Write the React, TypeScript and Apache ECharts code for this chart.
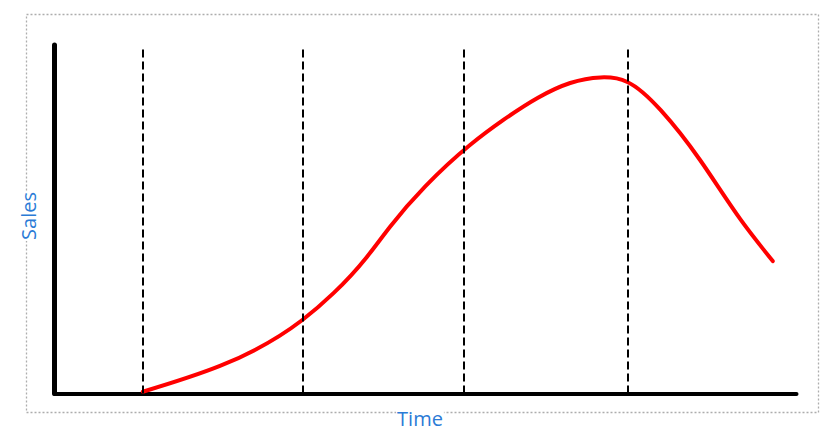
import React, { useEffect, useRef } from "react";
import * as echarts from "echarts";

// Product life-cycle curve (time vs sales)
const timeValues = [11.9, 22.3, 33.4, 37.6, 42.1, 45.2, 50.0, 56.0, 60.5, 65.1, 69.5, 73.6, 77.2, 81.7, 87.0, 92.4, 96.8];
const salesValues = [0.5, 7.9, 21.1, 28.8, 39.2, 47.8, 59.5, 71.3, 78.5, 84.8, 89.1, 90.7, 89.4, 81.3, 67.0, 50.1, 38.0];
// Stage boundaries (dashed verticals)
const stageBoundaries = [11.9, 33.4, 55.2, 77.3];
const stageTop = 99;
const xAxisTitle = "Time";
const yAxisTitle = "Sales";

// Natural cubic spline through screen points (x increasing), returned as SVG path data
function splinePath(pts: number[][]): string {
  const n = pts.length;
  const x = pts.map((p) => p[0]);
  const y = pts.map((p) => p[1]);
  const h: number[] = [];
  for (let i = 0; i < n - 1; i++) h.push(x[i + 1] - x[i]);
  const M = new Array(n).fill(0);
  if (n > 2) {
    const a: number[] = [], b: number[] = [], c: number[] = [], r: number[] = [];
    for (let i = 1; i < n - 1; i++) {
      a.push(h[i - 1]);
      b.push(2 * (h[i - 1] + h[i]));
      c.push(h[i]);
      r.push(6 * ((y[i + 1] - y[i]) / h[i] - (y[i] - y[i - 1]) / h[i - 1]));
    }
    const m = b.length;
    for (let i = 1; i < m; i++) {
      const w = a[i] / b[i - 1];
      b[i] -= w * c[i - 1];
      r[i] -= w * r[i - 1];
    }
    const sol = new Array(m).fill(0);
    sol[m - 1] = r[m - 1] / b[m - 1];
    for (let i = m - 2; i >= 0; i--) sol[i] = (r[i] - c[i] * sol[i + 1]) / b[i];
    for (let i = 0; i < m; i++) M[i + 1] = sol[i];
  }
  let d = `M${x[0]},${y[0]}`;
  for (let i = 0; i < n - 1; i++) {
    const hi = h[i];
    const s = (y[i + 1] - y[i]) / hi;
    const m0 = s - (hi * (2 * M[i] + M[i + 1])) / 6;
    const m1 = s + (hi * (M[i] + 2 * M[i + 1])) / 6;
    const c1x = x[i] + hi / 3, c1y = y[i] + (m0 * hi) / 3;
    const c2x = x[i + 1] - hi / 3, c2y = y[i + 1] - (m1 * hi) / 3;
    d += ` C${c1x},${c1y} ${c2x},${c2y} ${x[i + 1]},${y[i + 1]}`;
  }
  return d;
}

export default function App() {
  const ref = useRef<HTMLDivElement>(null);

  useEffect(() => {
    if (!ref.current) return;
    const chart = echarts.init(ref.current, null, { renderer: "svg" });
    const curve = timeValues.map((t, i) => [t, salesValues[i]]);
    const blue = "#2b7bd6";

    const renderCurve = (params: any, api: any) => {
      if (params.dataIndex !== 0) return null;
      const pts: number[][] = curve.map((d) => api.coord(d));
      return {
        type: "path",
        shape: { pathData: splinePath(pts) },
        style: { stroke: "#ff0000", lineWidth: 4, fill: "none", lineCap: "round", lineJoin: "round" },
        silent: true,
      };
    };

    chart.setOption({
      animation: false,
      grid: { left: 54.5, top: 45, right: 38.5, bottom: 48.5, containLabel: false },
      xAxis: {
        type: "value",
        min: 0,
        max: 100,
        axisLine: { show: true, lineStyle: { color: "#000", width: 4 } },
        axisTick: { show: false },
        axisLabel: { show: false },
        splitLine: { show: false },
      },
      yAxis: {
        type: "value",
        min: 0,
        max: 100,
        axisLine: { show: true, lineStyle: { color: "#000", width: 5 } },
        axisTick: { show: false },
        axisLabel: { show: false },
        splitLine: { show: false },
      },
      series: [
        {
          type: "line",
          data: [],
          silent: true,
          z: 1,
          markLine: {
            silent: true,
            symbol: ["none", "none"],
            label: { show: false },
            emphasis: { disabled: true },
            lineStyle: { color: "#000", width: 2, type: [8, 4] },
            data: stageBoundaries.map((b) => [
              { coord: [b, 0] },
              { coord: [b, stageTop] },
            ]),
          },
        },
        {
          type: "custom",
          data: curve,
          encode: { x: 0, y: 1 },
          renderItem: renderCurve,
          clip: false,
          silent: true,
          z: 3,
        },
      ],
      graphic: [
        {
          type: "rect",
          z: 0,
          silent: true,
          shape: { x: 26.5, y: 14.5, width: 792, height: 398 },
          style: { fill: "none", stroke: "#adadad", lineWidth: 1.3, lineDash: [2, 2] },
        },
        {
          type: "text",
          z: 10,
          x: 420,
          y: 418,
          style: {
            text: xAxisTitle,
            fill: blue,
            font: "20px 'Open Sans', sans-serif",
            textAlign: "center",
            textVerticalAlign: "middle",
            backgroundColor: "#fff",
            padding: [0, 1],
          },
        },
        {
          type: "text",
          z: 10,
          x: 28,
          y: 216,
          rotation: Math.PI / 2,
          style: {
            text: yAxisTitle,
            fill: blue,
            font: "20px 'Open Sans', sans-serif",
            textAlign: "center",
            textVerticalAlign: "middle",
            backgroundColor: "#fff",
            padding: [0, 1],
          },
        },
      ],
    });
    return () => chart.dispose();
  }, []);

  return (
    <div
      ref={ref}
      style={{ position: "fixed", left: 0, top: 0, width: 835, height: 442, background: "#fff" }}
    />
  );
}
